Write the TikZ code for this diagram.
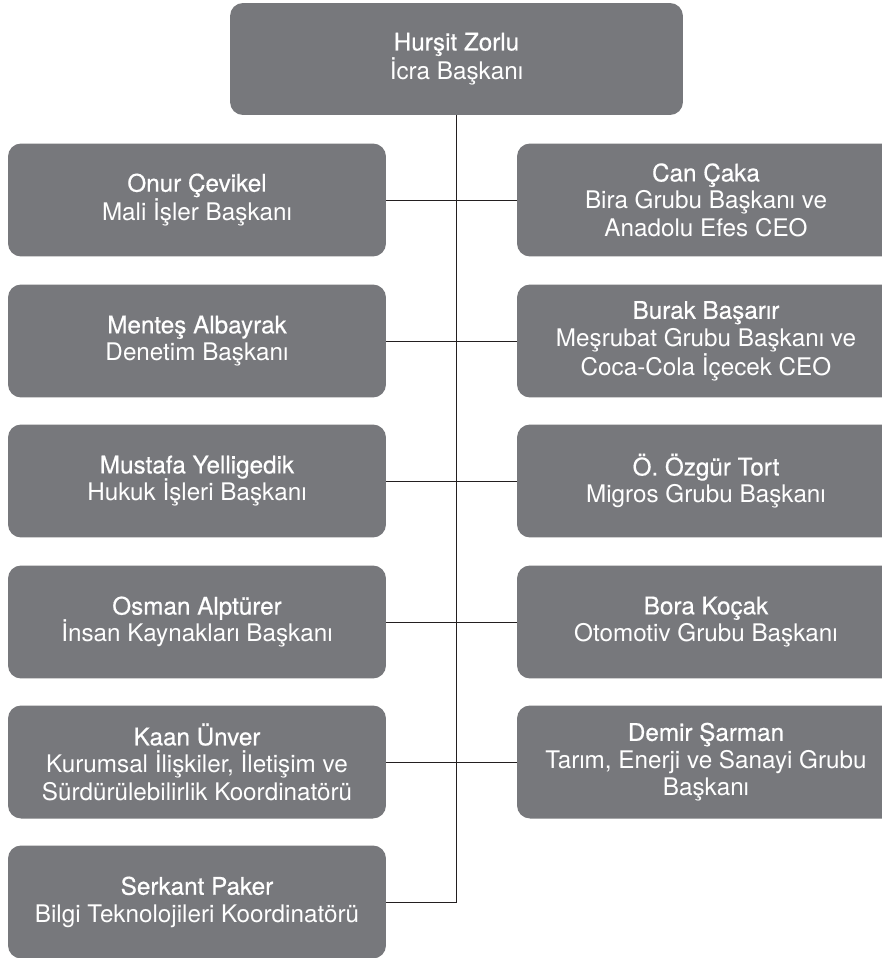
\documentclass[tikz,border=0pt]{standalone}
\usepackage{fontspec}
\setmainfont{TeX Gyre Heros}
\newfontfamily\namefont[FakeBold=0.5]{TeX Gyre Heros}
\usepackage{xcolor}
\definecolor{boxgray}{RGB}{119, 120, 124}
\definecolor{linkblack}{RGB}{35, 31, 32}

\begin{document}
\begin{tikzpicture}[
        x=0.02cm, y=-0.02cm,
        head/.style={rectangle, rounded corners=0.26cm, fill=boxgray, text=white, align=center, inner sep=0pt, minimum width=9.06cm, minimum height=2.24cm, font=\fontsize{13.8}{15.6}\selectfont},
        unit/.style={rectangle, rounded corners=0.26cm, fill=boxgray, text=white, align=center, inner sep=0pt, minimum width=7.56cm, minimum height=2.26cm, font=\fontsize{13.8}{15.6}\selectfont},
        link/.style={draw=linkblack, line width=0.5pt}
    ]
    \clip (0, 0) rectangle (882, 958);
    \fill[white] (0, 0) rectangle (882, 958);

    % Chairman
    \node[head] (zorlu) at (456.5, 59) {{\namefont Hurşit Zorlu}\\ İcra Başkanı};

    % Left column
    \node[unit] (cevikel) at (197, 200) {{\namefont Onur Çevikel}\\ Mali İşler Başkanı};
    \node[unit] (albayrak) at (197, 341) {{\namefont Menteş Albayrak}\\ Denetim Başkanı};
    \node[unit] (yelligedik) at (197, 481) {{\namefont Mustafa Yelligedik}\\ Hukuk İşleri Başkanı};
    \node[unit] (alpturer) at (197, 622) {{\namefont Osman Alptürer}\\ İnsan Kaynakları Başkanı};
    \node[unit] (unver) at (197, 762) {{\namefont Kaan Ünver}\\ Kurumsal İlişkiler, İletişim ve\\ Sürdürülebilirlik Koordinatörü};
    \node[unit] (paker) at (197, 902) {{\namefont Serkant Paker}\\ Bilgi Teknolojileri Koordinatörü};

    % Right column (runs off the right edge)
    \node[unit] (caka) at (706, 200) {{\namefont Can Çaka}\\ Bira Grubu Başkanı ve\\ Anadolu Efes CEO};
    \node[unit] (basarir) at (706, 341) {{\namefont Burak Başarır}\\ Meşrubat Grubu Başkanı ve\\ Coca-Cola İçecek CEO};
    \node[unit] (tort) at (706, 481) {{\namefont Ö. Özgür Tort}\\ Migros Grubu Başkanı};
    \node[unit] (kocak) at (706, 622) {{\namefont Bora Koçak}\\ Otomotiv Grubu Başkanı};
    \node[unit] (sarman) at (706, 762) {{\namefont Demir Şarman}\\ Tarım, Enerji ve Sanayi Grubu\\ Başkanı};

    % Trunk and branches
    \draw[link] (zorlu.south) |- (paker.east);
    \draw[link] (cevikel.east) -- (caka.west);
    \draw[link] (albayrak.east) -- (basarir.west);
    \draw[link] (yelligedik.east) -- (tort.west);
    \draw[link] (alpturer.east) -- (kocak.west);
    \draw[link] (unver.east) -- (sarman.west);

\end{tikzpicture}
\end{document}
